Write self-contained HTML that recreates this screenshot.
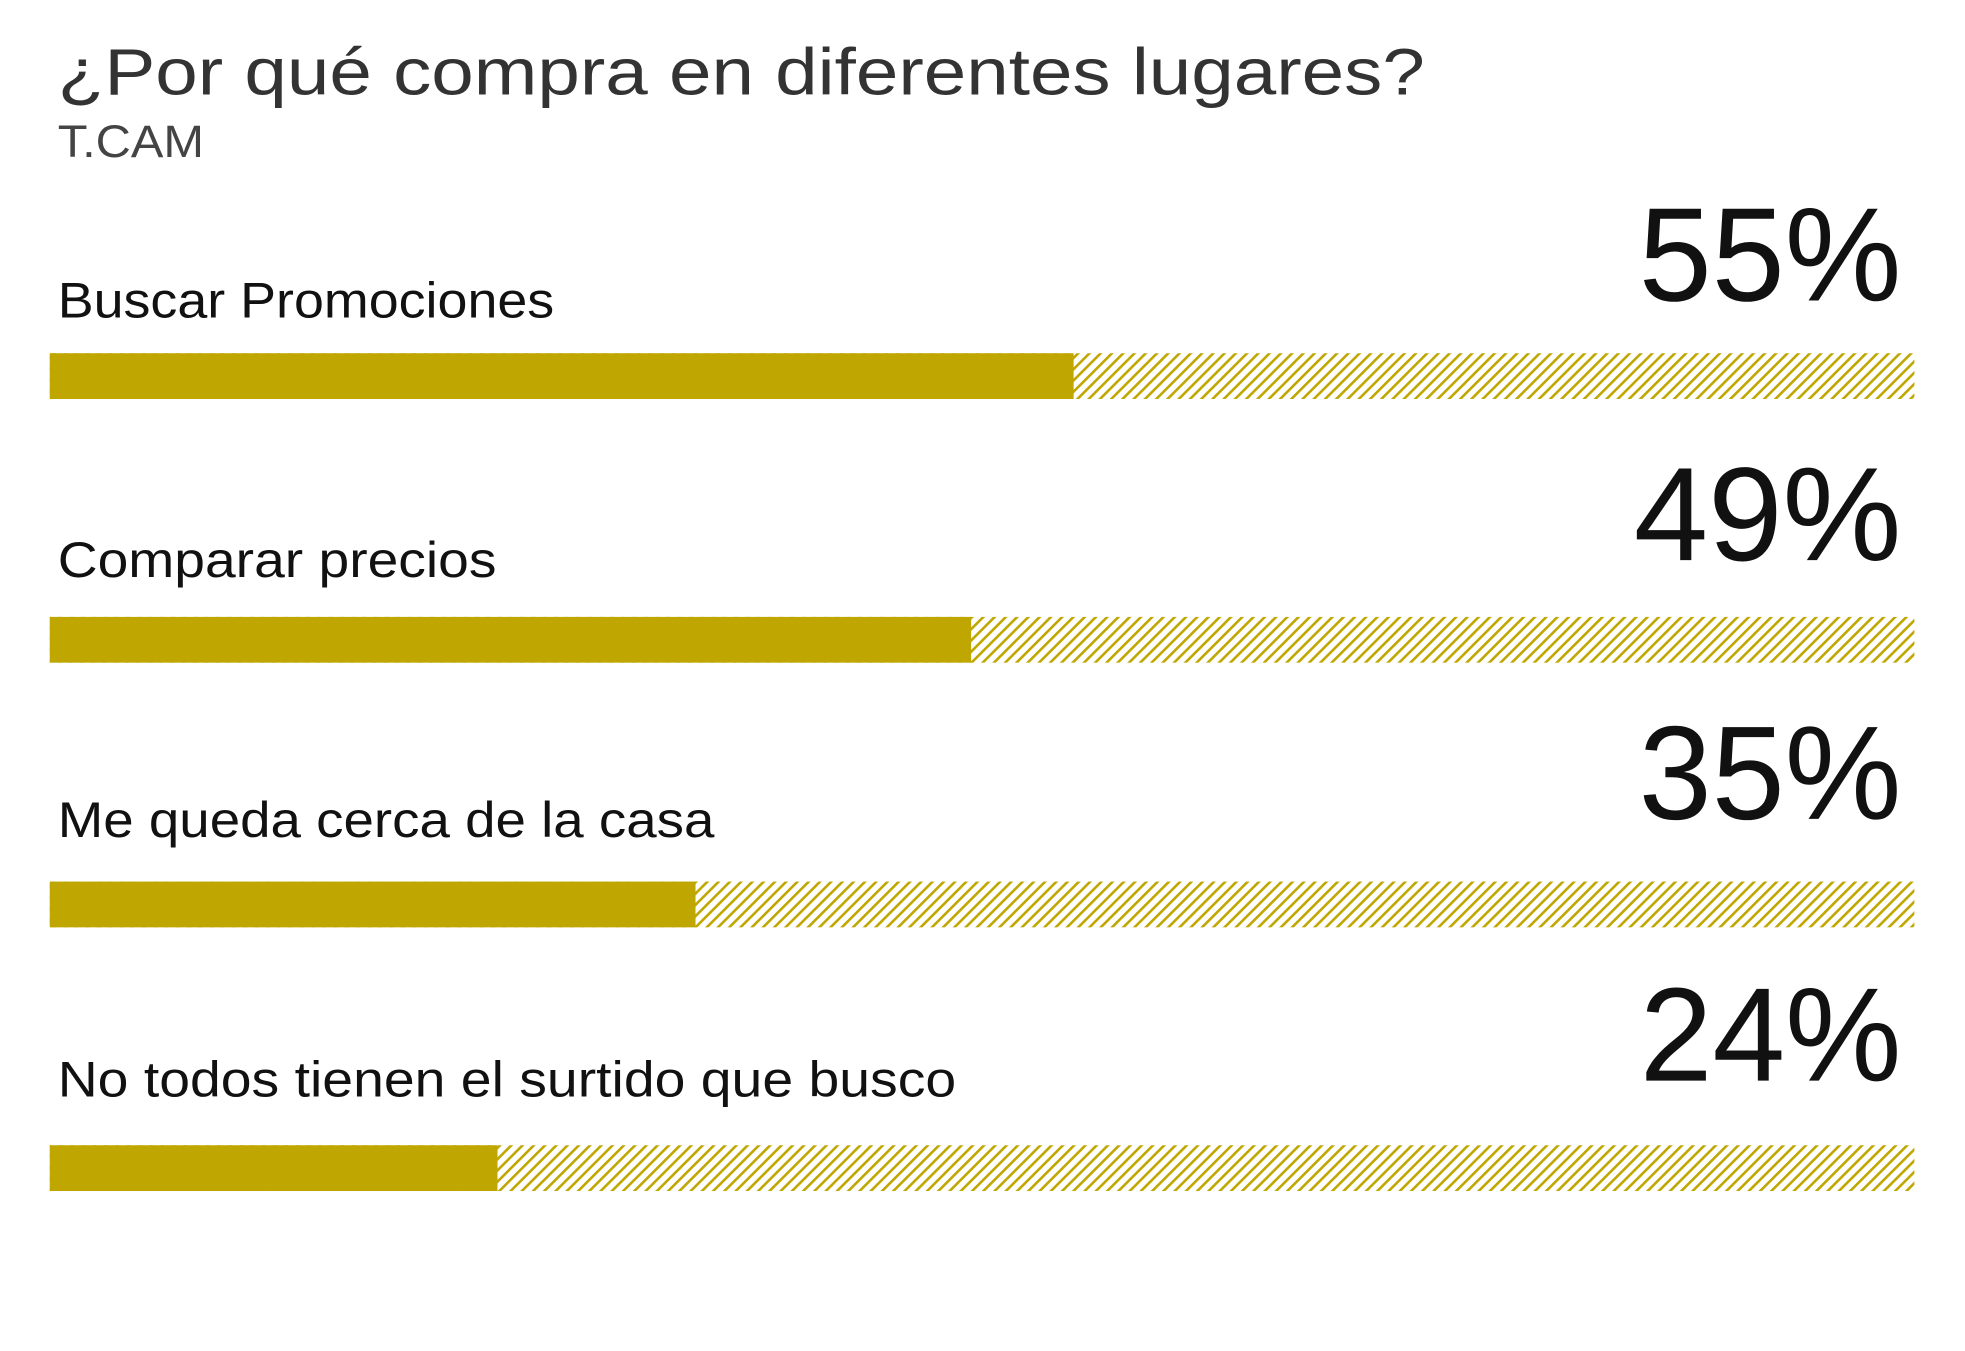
<!DOCTYPE html>
<html><head><meta charset="utf-8"><style>
html,body{margin:0;padding:0;background:#fff;}
svg{display:block;}
</style></head><body>
<svg width="1965" height="1351" viewBox="0 0 1965 1351" xmlns="http://www.w3.org/2000/svg" font-family="Liberation Sans, sans-serif">
<defs>
<pattern id="h" patternUnits="userSpaceOnUse" width="8" height="8" patternTransform="rotate(45)">
<rect x="0" y="0" width="2.6" height="8" fill="#bfa600"/>
</pattern>
</defs>
<rect width="1965" height="1351" fill="#fff"/>
<g transform="scale(0.995)">
<text x="58" y="95" font-size="66" fill="#333" textLength="1374" lengthAdjust="spacingAndGlyphs">¿Por qué compra en diferentes lugares?</text>
<text x="58" y="158" font-size="46" fill="#444" textLength="147" lengthAdjust="spacingAndGlyphs">T.CAM</text>

<g fill="#111">
<text x="58" y="319" font-size="50" textLength="499" lengthAdjust="spacingAndGlyphs">Buscar Promociones</text>
<text x="58" y="580" font-size="50" textLength="441" lengthAdjust="spacingAndGlyphs">Comparar precios</text>
<text x="58" y="841" font-size="50" textLength="660" lengthAdjust="spacingAndGlyphs">Me queda cerca de la casa</text>
<text x="58" y="1102" font-size="50" textLength="903" lengthAdjust="spacingAndGlyphs">No todos tienen el surtido que busco</text>
<text x="1647" y="302" font-size="134" textLength="264" lengthAdjust="spacingAndGlyphs">55%</text>
<text x="1642" y="563" font-size="134" textLength="269" lengthAdjust="spacingAndGlyphs">49%</text>
<text x="1647" y="823" font-size="134" textLength="264" lengthAdjust="spacingAndGlyphs">35%</text>
<text x="1648" y="1086" font-size="134" textLength="263" lengthAdjust="spacingAndGlyphs">24%</text>
</g>

<g>
<rect x="50" y="355" width="1874" height="46" fill="url(#h)"/>
<rect x="50" y="355" width="1029" height="46" fill="#bfa600"/>
<rect x="50" y="620" width="1874" height="46" fill="url(#h)"/>
<rect x="50" y="620" width="926" height="46" fill="#bfa600"/>
<rect x="50" y="886" width="1874" height="46" fill="url(#h)"/>
<rect x="50" y="886" width="649" height="46" fill="#bfa600"/>
<rect x="50" y="1151" width="1874" height="46" fill="url(#h)"/>
<rect x="50" y="1151" width="450" height="46" fill="#bfa600"/>
</g>
</g>
</svg>
</body></html>
